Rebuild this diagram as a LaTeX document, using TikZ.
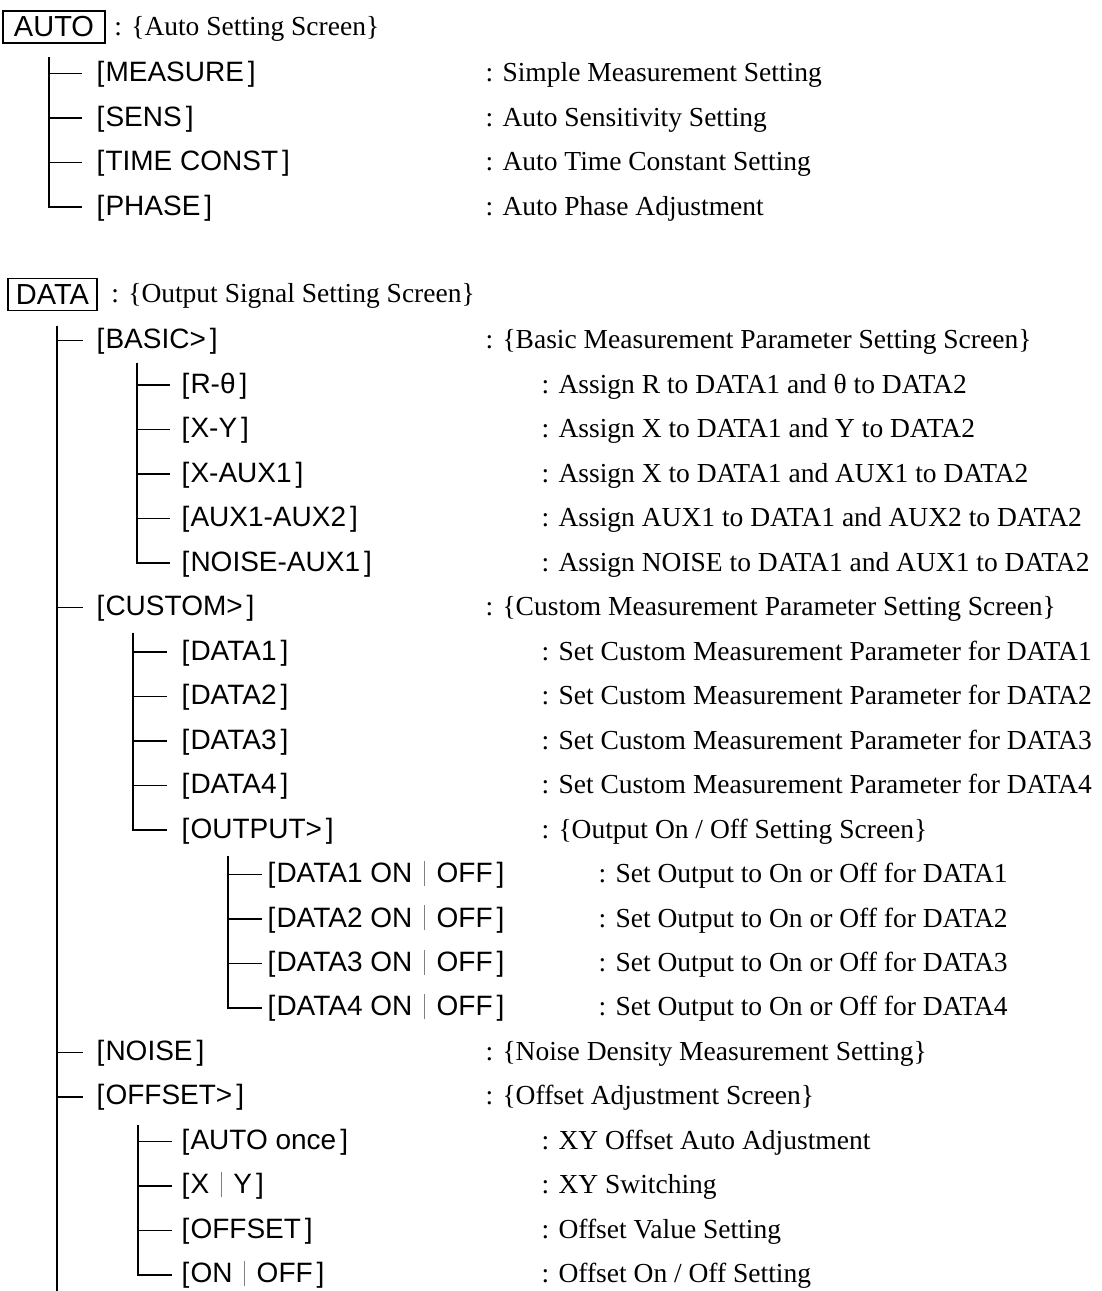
\documentclass[tikz,border=0pt]{standalone}
\usepackage{fontspec}
\setmainfont{Liberation Serif}
\newfontfamily\keyfont{Liberation Sans}
\usetikzlibrary{positioning}
\newcommand\softkey[1]{[\kern1pt#1\kern4pt]}
\newcommand\orbar{\hspace{0.42em}{\color{gray}\rule[-0.12em]{0.7pt}{0.9em}}\hspace{0.42em}}

\begin{document}
\begin{tikzpicture}[x=1pt,y=-44.5pt,line width=1.5pt,
  font=\fontsize{27.5pt}{30pt}\selectfont,
  key/.style={draw,font=\keyfont\fontsize{29pt}{32pt}\selectfont,minimum height=32pt,inner sep=0pt},
  btn/.style={anchor=west,inner sep=0pt,text height=22pt,text depth=6pt,
    font=\keyfont\fontsize{28pt}{30pt}\selectfont},
  note/.style={anchor=west,inner sep=0pt,text height=22pt,text depth=6pt},
  branch/.style={shorten >=#1},
  branch/.default=12pt]
\useasboundingbox (0,-0.652) rectangle (1102,28.36);

% AUTO screen
\node[key,minimum width=102pt] (auto) at (54,-0.045) {AUTO};
\node[note,right=8pt of auto] (auto-d) {: \{Auto Setting Screen\}};
\coordinate (autotrunk) at (49,0.63);
\node[btn] (measure) at (96,1) {\softkey{MEASURE}};
\node[btn] (sens) at (96,2) {\softkey{SENS}};
\node[btn] (timeconst) at (96,3) {\softkey{TIME CONST}};
\node[btn] (phase) at (96,4) {\softkey{PHASE}};
\node[note] (measure-d) at (485,1) {: Simple Measurement Setting};
\node[note] (sens-d) at (485,2) {: Auto Sensitivity Setting};
\node[note] (timeconst-d) at (485,3) {: Auto Time Constant Setting};
\node[note] (phase-d) at (485,4) {: Auto Phase Adjustment};
\draw[branch=14pt] (autotrunk) |- (measure);
\draw[branch=14pt] (autotrunk) |- (sens);
\draw[branch=14pt] (autotrunk) |- (timeconst);
\draw[branch=14pt] (autotrunk) |- (phase);

% DATA screen
\node[key,minimum width=89pt] (data) at (52.5,5.966) {DATA};
\node[note,right=13pt of data] (data-d) {: \{Output Signal Setting Screen\}};
\coordinate (datatrunk) at (57,6.67);
\coordinate (dataend) at (57,28.36);
\node[btn] (basic) at (96,7) {\softkey{BASIC>}};
\node[btn] (custom) at (96,13) {\softkey{CUSTOM>}};
\node[btn] (noise) at (96,23) {\softkey{NOISE}};
\node[btn] (offset) at (96,24) {\softkey{OFFSET>}};
\node[note] (basic-d) at (485,7) {: \{Basic Measurement Parameter Setting Screen\}};
\node[note] (custom-d) at (485,13) {: \{Custom Measurement Parameter Setting Screen\}};
\node[note] (noise-d) at (485,23) {: \{Noise Density Measurement Setting\}};
\node[note] (offset-d) at (485,24) {: \{Offset Adjustment Screen\}};
\draw (datatrunk) -- (dataend);
\draw[branch=13pt] (datatrunk) |- (basic);
\draw[branch=13pt] (datatrunk) |- (custom);
\draw[branch=13pt] (datatrunk) |- (noise);
\draw[branch=13pt] (datatrunk) |- (offset);

% BASIC>
\coordinate (basictrunk) at (137,7.5);
\node[btn] (rtheta) at (181,8) {\softkey{R-θ}};
\node[btn] (xy) at (181,9) {\softkey{X-Y}};
\node[btn] (xaux) at (181,10) {\softkey{X-AUX1}};
\node[btn] (auxaux) at (181,11) {\softkey{AUX1-AUX2}};
\node[btn] (noiseaux) at (181,12) {\softkey{NOISE-AUX1}};
\node[note] (rtheta-d) at (541,8) {: Assign R to DATA1 and θ to DATA2};
\node[note] (xy-d) at (541,9) {: Assign X to DATA1 and Y to DATA2};
\node[note] (xaux-d) at (541,10) {: Assign X to DATA1 and AUX1 to DATA2};
\node[note] (auxaux-d) at (541,11) {: Assign AUX1 to DATA1 and AUX2 to DATA2};
\node[note] (noiseaux-d) at (541,12) {: Assign NOISE to DATA1 and AUX1 to DATA2};
\draw[branch=11pt] (basictrunk) |- (rtheta);
\draw[branch=11pt] (basictrunk) |- (xy);
\draw[branch=11pt] (basictrunk) |- (xaux);
\draw[branch=11pt] (basictrunk) |- (auxaux);
\draw[branch=11pt] (basictrunk) |- (noiseaux);

% CUSTOM>
\coordinate (customtrunk) at (133,13.57);
\node[btn] (data1) at (181,14) {\softkey{DATA1}};
\node[btn] (data2) at (181,15) {\softkey{DATA2}};
\node[btn] (data3) at (181,16) {\softkey{DATA3}};
\node[btn] (data4) at (181,17) {\softkey{DATA4}};
\node[btn] (output) at (181,18) {\softkey{OUTPUT>}};
\node[note] (data1-d) at (541,14) {: Set Custom Measurement Parameter for DATA1};
\node[note] (data2-d) at (541,15) {: Set Custom Measurement Parameter for DATA2};
\node[note] (data3-d) at (541,16) {: Set Custom Measurement Parameter for DATA3};
\node[note] (data4-d) at (541,17) {: Set Custom Measurement Parameter for DATA4};
\node[note] (output-d) at (541,18) {: \{Output On / Off Setting Screen\}};
\draw[branch=14pt] (customtrunk) |- (data1);
\draw[branch=14pt] (customtrunk) |- (data2);
\draw[branch=14pt] (customtrunk) |- (data3);
\draw[branch=14pt] (customtrunk) |- (data4);
\draw[branch=14pt] (customtrunk) |- (output);

% OUTPUT>
\coordinate (outputtrunk) at (228,18.58);
\node[btn] (out1) at (267,19) {\softkey{DATA1 ON\orbar OFF}};
\node[btn] (out2) at (267,20) {\softkey{DATA2 ON\orbar OFF}};
\node[btn] (out3) at (267,21) {\softkey{DATA3 ON\orbar OFF}};
\node[btn] (out4) at (267,22) {\softkey{DATA4 ON\orbar OFF}};
\node[note] (out1-d) at (598,19) {: Set Output to On or Off for DATA1};
\node[note] (out2-d) at (598,20) {: Set Output to On or Off for DATA2};
\node[note] (out3-d) at (598,21) {: Set Output to On or Off for DATA3};
\node[note] (out4-d) at (598,22) {: Set Output to On or Off for DATA4};
\draw[branch=5pt] (outputtrunk) |- (out1);
\draw[branch=5pt] (outputtrunk) |- (out2);
\draw[branch=5pt] (outputtrunk) |- (out3);
\draw[branch=5pt] (outputtrunk) |- (out4);

% OFFSET>
\coordinate (offsettrunk) at (138,24.63);
\node[btn] (autoonce) at (181,25) {\softkey{AUTO once}};
\node[btn] (xory) at (181,26) {\softkey{X\orbar Y}};
\node[btn] (offsetval) at (181,27) {\softkey{OFFSET}};
\node[btn] (onoff) at (181,28) {\softkey{ON\orbar OFF}};
\node[note] (autoonce-d) at (541,25) {: XY Offset Auto Adjustment};
\node[note] (xory-d) at (541,26) {: XY Switching};
\node[note] (offsetval-d) at (541,27) {: Offset Value Setting};
\node[note] (onoff-d) at (541,28) {: Offset On / Off Setting};
\draw[branch=9pt] (offsettrunk) |- (autoonce);
\draw[branch=9pt] (offsettrunk) |- (xory);
\draw[branch=9pt] (offsettrunk) |- (offsetval);
\draw[branch=9pt] (offsettrunk) |- (onoff);
\end{tikzpicture}
\end{document}
